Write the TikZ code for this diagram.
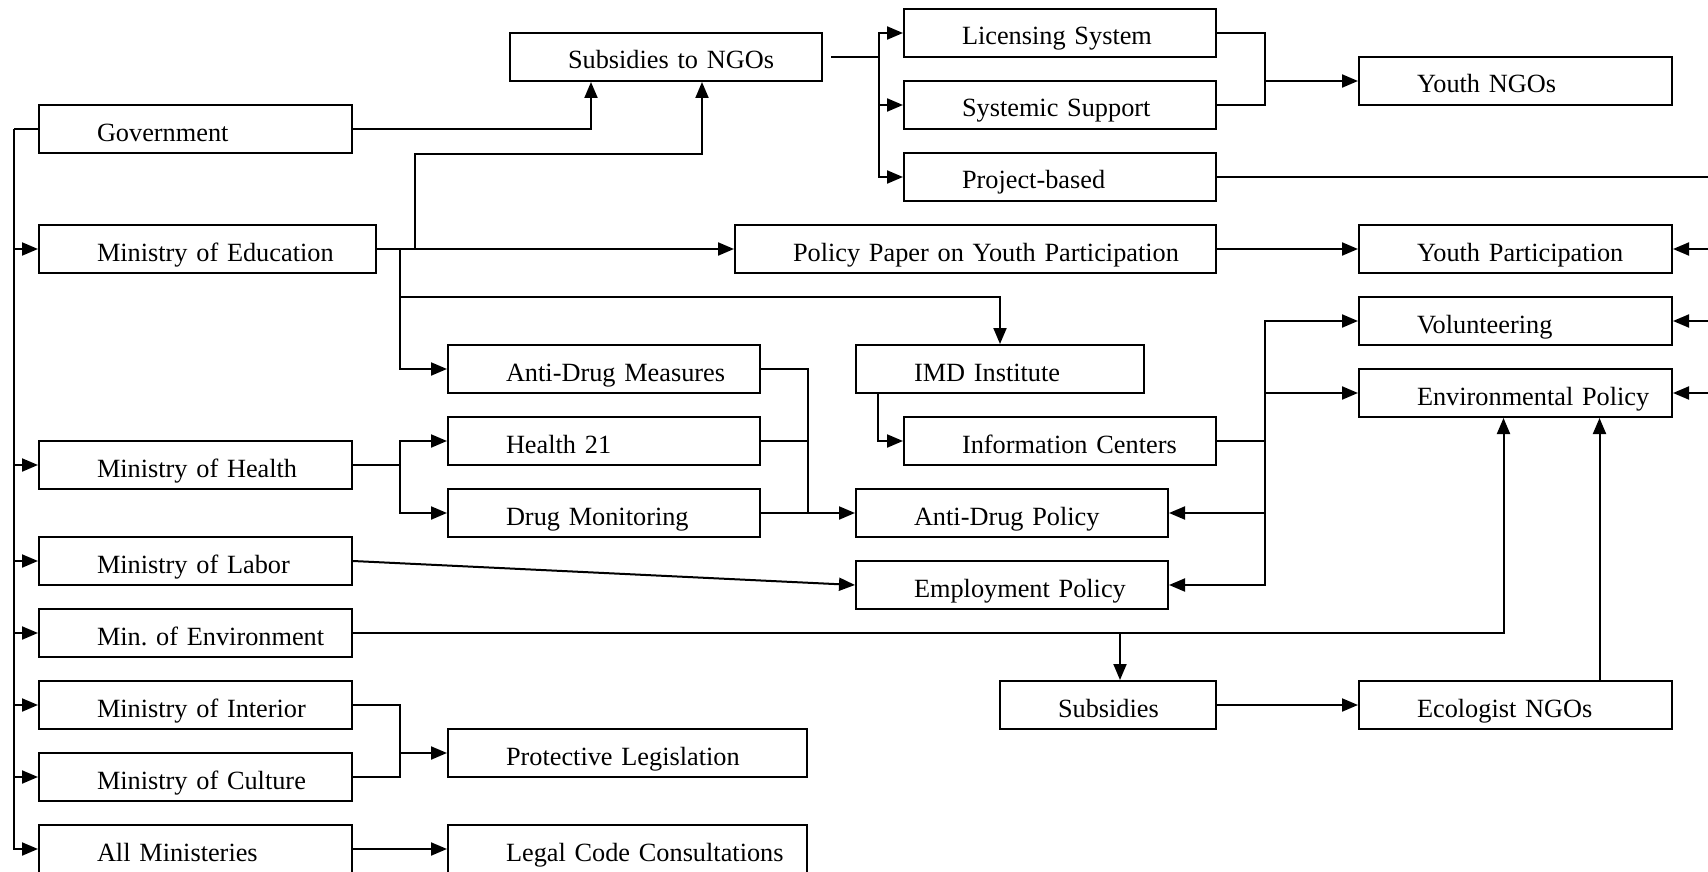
\documentclass[tikz,border=0pt]{standalone}
\usepackage{fontspec}
\setmainfont{Liberation Serif}
\usepackage{tikz}
\usetikzlibrary{
        arrows.meta,
        calc,
        positioning
    }
\tikzset{>={Triangle[length=8pt,width=6.5pt]}}
\tikzset{box/.style={draw,anchor=north west,inner sep=0pt,text width=#1,
        minimum height=24pt,text height=18pt,text depth=6pt,align=left,
        font=\fontsize{13.15}{16}\selectfont,
        execute at begin node={\frenchspacing\hspace*{29pt}}}}

\begin{document}
\begin{tikzpicture}[x=0.5pt,y=-0.5pt,line width=1pt]
                \useasboundingbox (0,0) rectangle (1708,872);
                \coordinate (rim) at (1708,0);
                % ministries
                \node[box=156.5pt] (gov)  at (38,104) {Government};
                \node[box=168.5pt] (edu)  at (38,224) {Ministry of Education};
                \node[box=156.5pt] (hea)  at (38,440) {Ministry of Health};
                \node[box=156.5pt] (lab)  at (38,536) {Ministry of Labor};
                \node[box=156.5pt] (env)  at (38,608) {Min. of Environment};
                \node[box=156.5pt] (int)  at (38,680) {Ministry of Interior};
                \node[box=156.5pt] (cul)  at (38,752) {Ministry of Culture};
                \node[box=156.5pt] (all)  at (38,824) {All Ministeries};
                % measures
                \node[box=156pt]   (subngo) at (509,32)  {Subsidies to NGOs};
                \node[box=156pt]   (lic)  at (903,8)     {Licensing System};
                \node[box=156pt]   (sys)  at (903,80)    {Systemic Support};
                \node[box=156pt]   (prj)  at (903,152)   {Project-based};
                \node[box=240.5pt] (pol)  at (734,224)   {Policy Paper on Youth Participation};
                \node[box=156pt]   (adm)  at (447,344)   {Anti-Drug Measures};
                \node[box=144pt]   (imd)  at (855,344)   {IMD Institute};
                \node[box=156pt]   (h21)  at (447,416)   {Health 21};
                \node[box=156pt]   (info) at (903,416)   {Information Centers};
                \node[box=156pt]   (dmon) at (447,488)   {Drug Monitoring};
                \node[box=156pt]   (adp)  at (855,488)   {Anti-Drug Policy};
                \node[box=156pt]   (emp)  at (855,560)   {Employment Policy};
                \node[box=108pt]   (sub)  at (999,680)   {Subsidies};
                \node[box=179.5pt] (prot) at (447,728)   {Protective Legislation};
                \node[box=179.5pt] (legal) at (447,824)  {Legal Code Consultations};
                % outcomes
                \node[box=156.5pt] (yngo)  at (1358,56)  {Youth NGOs};
                \node[box=156.5pt] (ypart) at (1358,224) {Youth Participation};
                \node[box=156.5pt] (vol)   at (1358,296) {Volunteering};
                \node[box=156.5pt] (envp)  at (1358,368) {Environmental Policy};
                \node[box=156.5pt] (eco)   at (1358,680) {Ecologist NGOs};

                % trunk on the left
                \draw (gov.west) -- ++(-24,0) coordinate (t0);
                \foreach \m in {edu,hea,lab,env,int,cul,all}
                    \draw[->] (t0) |- (\m.west);

                \draw[->] (gov.east) -| ([xshift=-37.5pt]subngo.south);
                \draw[->] (edu.east) -| ++(38,-95) -| ([xshift=18pt]subngo.south);
                \draw[->] (edu.east) -- (pol.west);
                \coordinate (ej) at ($(edu.east)+(23,0)$);
                \draw[->] (ej) -- ++(0,48) -| (imd.north);
                \draw[->] (ej) |- (adm.west);

                \draw ([xshift=4pt]subngo.east) -- ++(48,0) coordinate (sj);
                \foreach \n in {lic,sys,prj}
                    \draw[->] (sj) |- (\n.west);
                \draw (lic.east) -- ++(48,0) coordinate (lj) |- (sys.east);
                \draw[->] (lj |- yngo.west) -- (yngo.west);
                \draw (prj.east) -- (prj.east -| rim);

                \draw[->] (pol.east) -- (ypart.west);
                \foreach \n in {ypart,vol,envp}
                    \draw[->] (\n.east -| rim) -- (\n.east);

                \draw[->] ([xshift=11.5pt]imd.south west) |- (info.west);
                \draw (info.east) -- ++(48,0) coordinate (ij);
                \draw[->] (ij) |- (vol.west);
                \draw[->] (ij) |- (envp.west);
                \draw[->] (ij) |- (adp.east);
                \draw[->] (ij) |- (emp.east);

                \draw (hea.east) -- ++(47,0) coordinate (hj);
                \draw[->] (hj) |- (h21.west);
                \draw[->] (hj) |- (dmon.west);
                \draw (adm.east) -- ++(47,0) coordinate (dj) |- (dmon.east);
                \draw (h21.east) -- (h21.east -| dj);
                \draw[->] (dj |- dmon.east) -- (adp.west);

                \draw[->] (lab.east) -- (emp.west);
                \draw[->] (env.east) -| ([xshift=-6pt]envp.south);
                \draw[->] ([xshift=6pt]sub.north |- env.east) -- ([xshift=6pt]sub.north);
                \draw[->] (sub.east) -- (eco.west);
                \draw[->] ([xshift=42pt]eco.north) -- ([xshift=42pt]eco.north |- envp.south);

                \draw (int.east) -- ++(47,0) coordinate (cj) |- (cul.east);
                \draw[->] (cj |- prot.west) -- (prot.west);
                \draw[->] (all.east) -- (legal.west);
            \end{tikzpicture}
\end{document}
